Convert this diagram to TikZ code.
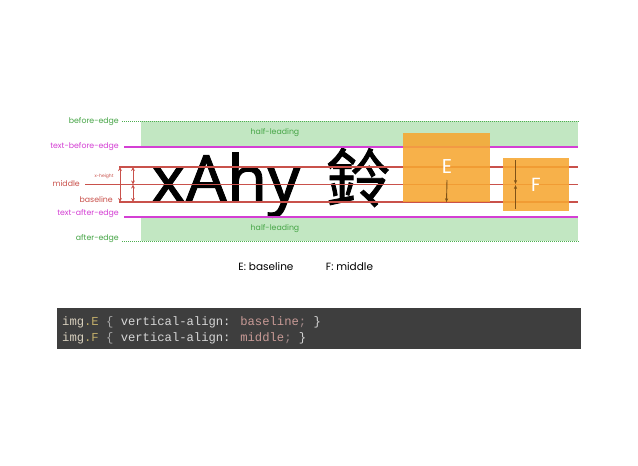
\documentclass[tikz,border=0pt]{standalone}
\usepackage{fontspec}
\setmainfont{Poppins}
\newfontfamily\bigfont[FakeBold=1.3]{Noto Sans}
\newfontfamily\cjk[FakeBold=1.3]{Noto Sans CJK SC}
\newfontfamily\codefont[WordSpace={1,0,0}]{Liberation Mono}
\usetikzlibrary{arrows.meta}
\definecolor{lgreen}{HTML}{46A546}
\definecolor{bandgreen}{HTML}{C2E7C2}
\definecolor{dgreen}{HTML}{4CAF50}
\definecolor{mag}{HTML}{D43FD4}
\definecolor{redl}{HTML}{C9514B}
\definecolor{boxorange}{HTML}{F7A731}
\definecolor{brownarr}{HTML}{7F5217}
\definecolor{codebg}{HTML}{3E3E3E}
\definecolor{cimg}{HTML}{D8D0BE}
\definecolor{ccls}{HTML}{C2AE6A}
\definecolor{cbrace}{HTML}{A8A8A8}
\definecolor{cprop}{HTML}{D6D6D6}
\definecolor{cval}{HTML}{C89A96}
\definecolor{csemi}{HTML}{A08888}
\begin{document}
\begin{tikzpicture}[x=1pt,y=-1pt,
  lbl/.style={font=\fontsize{7.8}{8}\selectfont, inner sep=0, anchor=east},
  lead/.style={font=\fontsize{7.8}{8}\selectfont, inner sep=0, text=lgreen},
  dotline/.style={dgreen, line width=1pt, dash pattern=on 1pt off 1pt},
  magline/.style={mag, line width=1.5pt},
  redline/.style={redl, line width=1.1pt},
  redarr/.style={redl, line width=1pt, {Stealth[length=4pt,width=3.8pt]}-{Stealth[length=4pt,width=3.8pt]}},
  imgbox/.style={fill=boxorange, fill opacity=0.88, inner sep=0},
  boxarr/.style={brownarr, line width=0.9pt, -{Stealth[length=4pt,width=3.2pt]}},
  caption/.style={font=\fontsize{10.5}{11}\selectfont, inner sep=0},
  code/.style={font=\codefont\fontsize{12.2}{13}\selectfont, inner sep=0, anchor=base west}
]
\useasboundingbox (0,0) rectangle (638,466);
\fill[white] (0,0) rectangle (638,466);
% leading bands
\fill[bandgreen] (141,121) rectangle (578,147);
\fill[bandgreen] (141,217) rectangle (578,241);
\node[lead] (hl1) at (275,133) {half-leading};
\node[lead] (hl2) at (275,229) {half-leading};
% main text
\node[anchor=base west, inner sep=0, font=\bigfont\fontsize{65}{65}\selectfont] (xahy) at (151,202) {xAhy};
\node[anchor=base west, inner sep=0, font=\cjk\fontsize{64}{64}\selectfont] (ling) at (326,202) {鈴};
% labels
\node[lbl, text=lgreen] (lbe) at (119,122) {before-edge};
\node[lbl, text=mag] (ltbe) at (119,147) {text-before-edge};
\node[lbl, text=redl] (lmid) at (80,183.5) {middle};
\node[lbl, text=redl, anchor=center, font=\fontsize{4.5}{5}\selectfont] (lxh) at (104,176) {x-height};
\node[lbl, text=redl] (lbase) at (113,200) {baseline};
\node[lbl, text=mag] (ltae) at (119,214) {text-after-edge};
\node[lbl, text=lgreen] (lae) at (119,239) {after-edge};
% line end points
\coordinate (beL) at (122,121);   \coordinate (beR) at (580,121);
\coordinate (tbeL) at (124,147);  \coordinate (tbeR) at (578,147);
\coordinate (xhL) at (119,167);   \coordinate (xhR) at (578,167);
\coordinate (midL) at (85,184.5); \coordinate (midR) at (578,184.5);
\coordinate (baL) at (119,202);   \coordinate (baR) at (578,202);
\coordinate (taeL) at (124,217);  \coordinate (taeR) at (578,217);
\coordinate (aeL) at (122,241);   \coordinate (aeR) at (580,241);
\draw[dotline] (beL) -- (beR);
\draw[dotline] (aeL) -- (aeR);
\draw[magline] (tbeL) -- (tbeR);
\draw[magline] (taeL) -- (taeR);
\draw[redline] (xhL) -- (xhR);
\draw[redline] (midL) -- (midR);
\draw[redline] (baL) -- (baR);
% measuring arrows
\coordinate (a1t) at (120,167); \coordinate (a1b) at (120,202);
\coordinate (a2t) at (133,167); \coordinate (a2m) at (133,184.5); \coordinate (a2b) at (133,202);
\draw[redarr] (a1t) -- (a1b);
\draw[redarr] (a2t) -- (a2m);
\draw[redarr] (a2m) -- (a2b);
% image boxes
\node[imgbox, minimum width=87pt, minimum height=69pt] (boxE) at (446.5,167.5) {};
\node[text=white, inner sep=0, font=\fontsize{20}{20}\selectfont] (lE) at (447,167) {E};
\node[imgbox, minimum width=66pt, minimum height=53pt] (boxF) at (536,184.5) {};
\node[text=white, inner sep=0, font=\fontsize{19}{19}\selectfont] (lF) at (536,185) {F};
\coordinate (eArr) at (447,180);
\draw[boxarr] (eArr) -- (boxE.south);
\coordinate (fTop) at (515.5,160); \coordinate (fMidA) at (515.5,184);
\coordinate (fBot) at (515.5,209); \coordinate (fMidB) at (515.5,185);
\draw[boxarr] (fTop) -- (fMidA);
\draw[boxarr] (fBot) -- (fMidB);
% captions
\node[caption] (capE) at (266,267) {E: baseline};
\node[caption] (capF) at (349.5,267) {F: middle};
% code block
\fill[codebg] (57,308) rectangle (581,349);
\node[code] (code1) at (62,325.5) {\color{cimg}img\color{ccls}.E \color{cbrace}\{ \color{cprop}vertical-align: \color{cval}baseline\color{csemi}; \color{cprop}\}};
\node[code] (code2) at (62,341.5) {\color{cimg}img\color{ccls}.F \color{cbrace}\{ \color{cprop}vertical-align: \color{cval}middle\color{csemi}; \color{cprop}\}};
\end{tikzpicture}
\end{document}
